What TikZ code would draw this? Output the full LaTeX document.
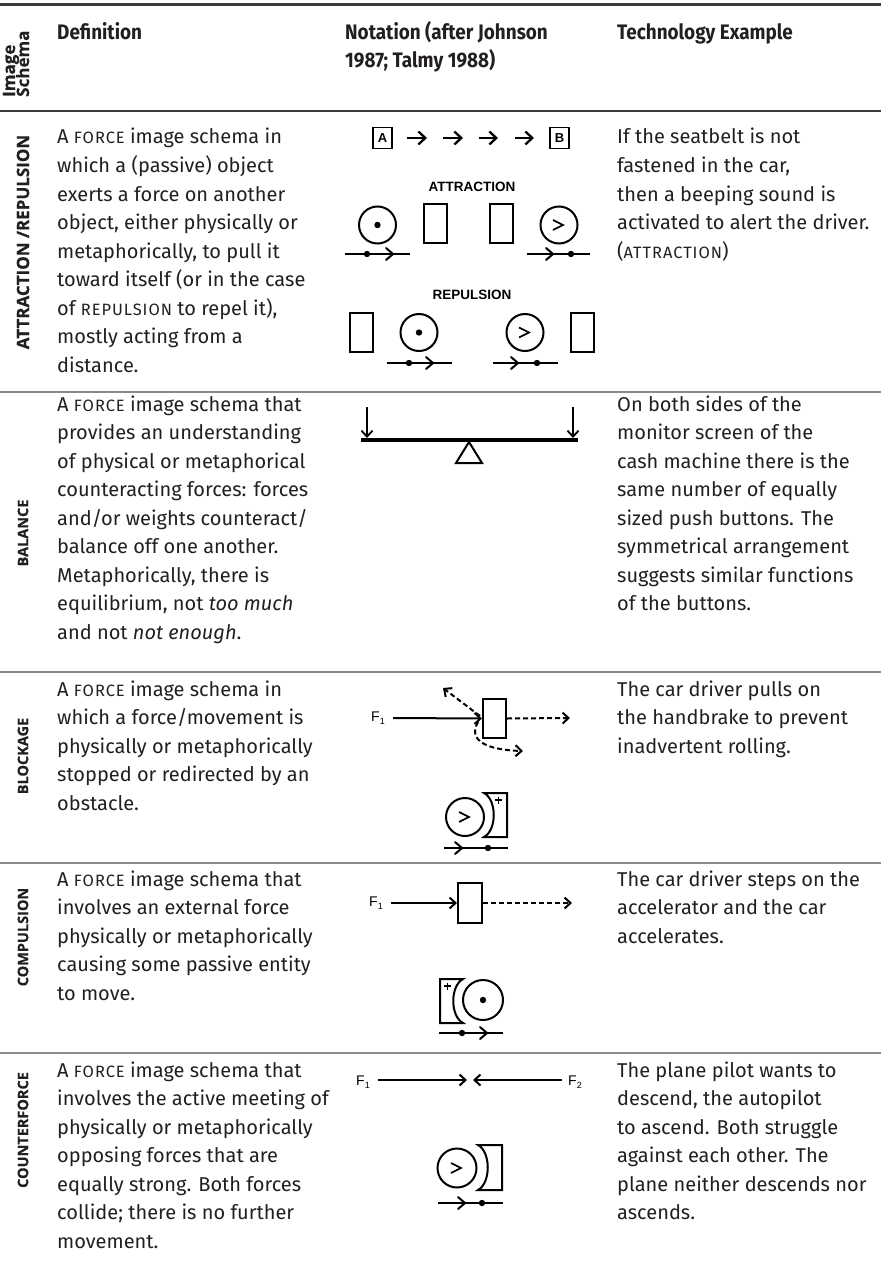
\documentclass[tikz,border=0pt]{standalone}
\usepackage{fontspec}
\setmainfont{Fira Sans}
\newfontfamily\hdfont{Fira Sans}[FakeStretch=0.9]
\newfontfamily\lblfont{Open Sans}[FakeBold=0.4]
\newfontfamily\arialfont{Liberation Sans}
\usetikzlibrary{arrows.meta}
\definecolor{ink}{HTML}{231F20}
\definecolor{rulegray}{HTML}{8A8A8A}
\definecolor{topgray}{HTML}{3A3A3A}
\newcommand\fsc[1]{{\fontsize{16.4}{16.4}\selectfont\addfontfeature{LetterSpace=6}#1}}
\newcommand\txtblock[4]{\foreach \ln [count=\k from 0] in {#4}{\node[body] (#1\k) at (#2,{#3+28.5*\k}) {\ln};}}
\newcommand\midbarb[2]{\draw[fig,line cap=round] ({#1-7},{#2-6}) -- (#1,#2) -- ({#1-7},{#2+6});}
\newcommand\gtsign[2]{\draw[line width=1.7pt] ({#1-5},{#2-5}) -- ({#1+5},#2) -- ({#1-5},{#2+5});}
\newcommand\plussign[2]{\draw[line width=1.2pt] ({#1-3.5},#2) -- ({#1+3.5},#2) ({#1},{#2-3.5}) -- ({#1},{#2+3.5});}
\tikzset{
 body/.style={anchor=base west, inner sep=0pt, font=\fontsize{20}{22}\selectfont, text=ink},
 head/.style={anchor=base west, inner sep=0pt, font=\hdfont\bfseries\fontsize{21}{23}\selectfont, text=ink},
 rowlab/.style={rotate=90, inner sep=0pt, font=\lblfont\bfseries\fontsize{14.5}{16}\selectfont, text=ink},
 sep/.style={draw=rulegray, line width=1.4pt},
 fig/.style={line width=2pt},
 sq/.style={draw, line width=1.6pt, minimum width=19pt, minimum height=21pt, inner sep=0pt, font=\arialfont\bfseries\fontsize{13}{13}\selectfont},
 rectv/.style={draw, line width=2pt, minimum width=23pt, minimum height=39pt, inner sep=0pt},
 circ/.style={draw, circle, line width=2pt, minimum size=37pt, inner sep=0pt},
 figlab/.style={font=\arialfont\bfseries\fontsize{13.5}{13.5}\selectfont, inner sep=0pt},
 flab/.style={font=\arialfont\fontsize{14}{14}\selectfont, inner sep=0pt},
 barb/.style={-{Straight Barb[length=6pt,width=11pt]}},
 bigbarb/.style={-{Straight Barb[length=7pt,width=13pt]}},
 dsh/.style={dash pattern=on 5pt off 3pt},
}
\begin{document}
\begin{tikzpicture}[x=1pt,y=-1pt]
\useasboundingbox (0,0) rectangle (881,1268);
% rules
\draw[topgray, line width=3pt] (0,5) -- (881,5);
\draw[topgray, line width=1.8pt] (0,111) -- (881,111);
\draw[sep] (0,392) -- (881,392);
\draw[sep] (0,672) -- (881,672);
\draw[sep] (0,863) -- (881,863);
\draw[sep] (0,1053) -- (881,1053);
% header
\node[anchor=base west, rotate=90, inner sep=0pt, font=\lblfont\bfseries\fontsize{17}{18}\selectfont, text=ink] (hImage) at (15,97) {Image};
\node[anchor=base west, rotate=90, inner sep=0pt, font=\lblfont\bfseries\fontsize{17}{18}\selectfont, text=ink] (hSchema) at (29,97) {Schema};
\node[head] (hDef) at (57,40) {Definition};
\node[head] (hNot1) at (345,40) {Notation (after Johnson};
\node[head] (hNot2) at (345,68) {1987; Talmy 1988)};
\node[head] (hTech) at (617,40) {Technology Example};
% row labels
\node[rowlab, font=\lblfont\bfseries\fontsize{17}{18}\selectfont] (lAttr) at (23,242) {ATTRACTION /REPULSION};
\node[rowlab] (lBal) at (23,533) {BALANCE};
\node[rowlab] (lBlk) at (23,756) {BLOCKAGE};
\node[rowlab] (lComp) at (23,937) {COMPULSION};
\node[rowlab] (lCntr) at (23,1130) {COUNTERFORCE};
% definitions
\txtblock{dA}{57}{144}{{A \fsc{FORCE} image schema in},{which a (passive) object},{exerts a force on another},{object, either physically or},{metaphorically, to pull it},{toward itself (or in the case},{of \fsc{REPULSION} to repel it),},{mostly acting from a},{distance.}}
\txtblock{dB}{57}{411}{{A \fsc{FORCE} image schema that},{provides an understanding},{of physical or metaphorical},{counteracting forces: forces},{and/or weights counteract/},{balance off one another.},{Metaphorically, there is},{equilibrium, not \emph{too much}},{and not \emph{not enough}.}}
\txtblock{dC}{57}{696}{{A \fsc{FORCE} image schema in},{which a force/movement is},{physically or metaphorically},{stopped or redirected by an},{obstacle.}}
\txtblock{dD}{57}{886}{{A \fsc{FORCE} image schema that},{involves an external force},{physically or metaphorically},{causing some passive entity},{to move.}}
\txtblock{dE}{57}{1077}{{A \fsc{FORCE} image schema that},{involves the active meeting of},{physically or metaphorically},{opposing forces that are},{equally strong. Both forces},{collide; there is no further},{movement.}}
% technology examples
\txtblock{tA}{617}{144}{{If the seatbelt is not},{fastened in the car,},{then a beeping sound is},{activated to alert the driver.},{(\fsc{ATTRACTION})}}
\txtblock{tB}{617}{411}{{On both sides of the},{monitor screen of the},{cash machine there is the},{same number of equally},{sized push buttons. The},{symmetrical arrangement},{suggests similar functions},{of the buttons.}}
\txtblock{tC}{617}{696}{{The car driver pulls on},{the handbrake to prevent},{inadvertent rolling.}}
\txtblock{tD}{617}{886}{{The car driver steps on the},{accelerator and the car},{accelerates.}}
\txtblock{tE}{617}{1077}{{The plane pilot wants to},{descend, the autopilot},{to ascend. Both struggle},{against each other. The},{plane neither descends nor},{ascends.}}
% ===== ATTRACTION / REPULSION figure
\node[sq] (boxA) at (382.5,138) {A};
\node[sq] (boxB) at (559.5,138) {B};
\coordinate (p1s) at (407,138); \coordinate (p1e) at (427,138);
\coordinate (p2s) at (443,138); \coordinate (p2e) at (463,138);
\coordinate (p3s) at (479,138); \coordinate (p3e) at (498,138);
\coordinate (p4s) at (515,138); \coordinate (p4e) at (534,138);
\foreach \s/\e in {p1s/p1e,p2s/p2e,p3s/p3e,p4s/p4e}{\draw[line width=2.3pt,bigbarb] (\s) -- (\e);}
\node[figlab] (tAttr) at (472,187) {ATTRACTION};
\node[circ] (cA1) at (377.5,225) {};
\fill (cA1.center) circle (3.2pt);
\node[rectv] (rA1) at (435,223) {};
\node[rectv] (rA2) at (501,223) {};
\node[circ] (cA2) at (559,225) {};
\gtsign{558}{225}
\draw[fig] (345,254) -- (410,254);
\fill (367,254) circle (3.2pt);
\midbarb{393}{254}
\draw[fig] (527,254) -- (590,254);
\midbarb{553}{254}
\fill (571,254) circle (3.2pt);
\node[figlab] (tRep) at (472,295) {REPULSION};
\node[rectv] (rR1) at (361.5,332.5) {};
\node[circ] (cR1) at (419,332.5) {};
\fill (cR1.center) circle (3.2pt);
\node[circ] (cR2) at (525,332.5) {};
\gtsign{524}{332.5}
\node[rectv] (rR2) at (582.5,332.5) {};
\draw[fig] (387,363) -- (452,363);
\fill (409,363) circle (3.2pt);
\midbarb{433}{363}
\draw[fig] (493,363) -- (558,363);
\midbarb{518}{363}
\fill (537,363) circle (3.2pt);
% ===== BALANCE figure
\coordinate (beamL) at (361,440); \coordinate (beamR) at (578,440);
\draw[line width=3.2pt] (beamL) -- (beamR);
\coordinate (wL) at (367,407); \coordinate (wLe) at (367,438);
\coordinate (wR) at (573,407); \coordinate (wRe) at (573,438);
\draw[line width=1.8pt,barb] (wL) -- (wLe);
\draw[line width=1.8pt,barb] (wR) -- (wRe);
\draw[fig, line join=miter] (469,442) -- (482,463) -- (456,463) -- cycle;
% ===== BLOCKAGE figure
\node[flab] (fB) at (378,718) {F\raisebox{-3pt}{\fontsize{9}{9}\selectfont 1}};
\node[rectv] (rB) at (494.5,718.5) {};
\coordinate (bStart) at (393,718);
\draw[fig,barb] (bStart) -- (rB.west);
\coordinate (bOut) at (570,718);
\draw[fig,barb,dsh] (rB.east) -- (bOut);
\coordinate (bUp) at (443,688);
\draw[fig,barb,dsh] (480,716) -- (bUp);
\coordinate (bDn) at (523,751);
\draw[fig,barb,dsh] (478,722) .. controls (467,741) and (488,750) .. (bDn);
\node[circ, minimum size=38pt] (cB) at (465,817) {};
\gtsign{464}{817}
\draw[fig, line join=miter] (484,793) -- (507,793) -- (507,837) -- (484,837) .. controls (497,830) and (497,800) .. (484,793) -- cycle;
\plussign{498.5}{800}
\draw[fig] (444,848) -- (508,848);
\midbarb{462}{848}
\fill (488,848) circle (3.2pt);
% ===== COMPULSION figure
\node[flab] (fC) at (376,903) {F\raisebox{-3pt}{\fontsize{9}{9}\selectfont 1}};
\node[rectv, minimum width=24pt, minimum height=40pt] (rC) at (470,903) {};
\coordinate (cStart) at (391,903);
\draw[fig,barb] (cStart) -- (rC.west);
\coordinate (cOut) at (572,903);
\draw[fig,barb,dsh] (rC.east) -- (cOut);
\draw[fig, line join=miter] (463,979) -- (440,979) -- (440,1023) -- (463,1023) .. controls (450,1016) and (450,986) .. (463,979) -- cycle;
\plussign{447.5}{986}
\node[circ, minimum size=40pt] (cC) at (483,1000) {};
\fill (cC.center) circle (3.2pt);
\draw[fig] (439,1033) -- (503,1033);
\fill (462,1033) circle (3.2pt);
\midbarb{487}{1033}
% ===== COUNTERFORCE figure
\node[flab] (fE1) at (363,1082) {F\raisebox{-3pt}{\fontsize{9}{9}\selectfont 1}};
\node[flab] (fE2) at (575,1082) {F\raisebox{-3pt}{\fontsize{9}{9}\selectfont 2}};
\coordinate (eMid1) at (467,1080); \coordinate (eMid2) at (473,1080);
\draw[fig,barb] (378,1080) -- (eMid1);
\draw[fig,barb] (562,1080) -- (eMid2);
\node[circ, minimum size=39pt] (cE) at (457,1168) {};
\gtsign{456}{1168}
\draw[fig, line join=miter] (478,1145) -- (502,1145) -- (502,1190) -- (478,1190) .. controls (491,1183) and (491,1152) .. (478,1145) -- cycle;
\draw[fig] (438,1203) -- (503,1203);
\midbarb{465}{1203}
\fill (482,1203) circle (3.2pt);
\end{tikzpicture}
\end{document}
